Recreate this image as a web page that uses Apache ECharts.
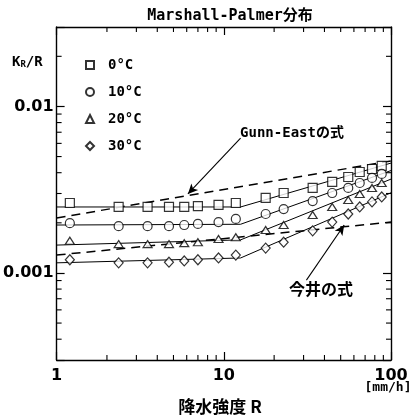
<!DOCTYPE html>
<html><head><meta charset="utf-8">
<script src="https://cdn.jsdelivr.net/npm/echarts@6/dist/echarts.min.js"></script>
<style>html,body{margin:0;padding:0;background:#fff}#c{width:417px;height:418px}</style>
</head><body><div id="c"></div>
<script>
// rain intensity R [mm/h]
const rain = [1.2, 2.35, 3.5, 4.7, 5.8, 7, 9.3, 11.8, 17.8, 22.8, 34, 44.5, 55.5, 65, 77, 88];
// K_R / R values per temperature
const k0  = [0.00263, 0.00249, 0.00249, 0.00249, 0.00249, 0.00252, 0.00256, 0.00263, 0.00282, 0.00302, 0.00324, 0.00352, 0.00377, 0.00404, 0.00421, 0.00439];
const k10 = [0.00199, 0.00191, 0.00191, 0.00191, 0.00194, 0.00197, 0.00202, 0.00211, 0.00226, 0.00242, 0.00270, 0.00302, 0.00324, 0.00347, 0.00372, 0.00393];
const k20 = [0.00156, 0.00149, 0.00149, 0.00149, 0.00151, 0.00153, 0.00160, 0.00164, 0.00181, 0.00194, 0.00223, 0.00249, 0.00274, 0.00298, 0.00324, 0.00347];
const k30 = [0.00120, 0.00115, 0.00115, 0.00116, 0.00118, 0.00120, 0.00123, 0.00128, 0.00141, 0.00153, 0.00179, 0.00202, 0.00226, 0.00249, 0.00267, 0.00286];
// fitted curves (solid)
const fitR  = [1, 12.6, 100];
const fit0  = [0.00249, 0.00249, 0.00457];
const fit10 = [0.00194, 0.00196, 0.00412];
const fit20 = [0.00147, 0.00158, 0.00366];
const fit30 = [0.00115, 0.00123, 0.00303];
// reference formulas (dashed)
const refR = [1, 100];
const gunnEast = [0.00214, 0.00470];
const imai = [0.00128, 0.00202];
// annotation arrows [tail, head]
const gunnArrow = [[12.6, 0.00646], [6.1, 0.00298]];
const imaiArrow = [[31.2, 0.000906], [52.5, 0.00194]];
// ticks
const xTickValues = [1, 10, 100];
const xTickLabels = ['1', '10', '100'];
const yTickValues = [0.001, 0.01];
const yTickLabels = ['0.001', '0.01'];
const xMinorTicks = [2, 3, 4, 5, 6, 7, 8, 9, 20, 30, 40, 50, 60, 70, 80, 90];
const yMinorTicks = [0.0004, 0.0005, 0.0006, 0.0007, 0.0008, 0.0009, 0.002, 0.003, 0.004, 0.005, 0.006, 0.007, 0.008, 0.009, 0.02];
const seriesNames = ['0°C', '10°C', '20°C', '30°C'];

const MONO = '"DejaVu Sans Mono", "Noto Sans CJK JP", monospace';
const CJK = '"Noto Sans CJK JP", sans-serif';

function labelFor(values, labels) {
  return function (v) {
    for (let i = 0; i < values.length; i++) {
      if (Math.abs(Math.log10(v) - Math.log10(values[i])) < 1e-6) return labels[i];
    }
    return '';
  };
}

const chart = echarts.init(document.getElementById('c'), null, {renderer: 'canvas'});
const pair = (xs, ys) => xs.map((x, i) => [x, ys[i]]);
const lineStyleSolid = {color: '#000', width: 1};
const markerStyle = {color: '#fff', borderColor: '#000', borderWidth: 1.2};

function axisCommon(extra) {
  return Object.assign({
    type: 'log', logBase: 10,
    axisLine: {show: true, lineStyle: {color: '#000', width: 1.4}},
    axisTick: {show: true, inside: true, length: 8, lineStyle: {color: '#000', width: 1.2}},
    splitLine: {show: false},
    minorTick: {show: false},
    minorSplitLine: {show: false}
  }, extra);
}

function minorTickSeries(axisDim) {
  const data = axisDim === 'x' ? xMinorTicks.map(v => [v, 0.001]) : yMinorTicks.map(v => [1, v]);
  return {
    type: 'custom', silent: true, clip: false, z: 1,
    data: data,
    encode: {x: 0, y: 1},
    renderItem: function (params, api) {
      const cs = params.coordSys;
      const p = api.coord([api.value(0), api.value(1)]);
      const L = 5;
      const st = {stroke: '#000', lineWidth: 1.1};
      if (axisDim === 'x') {
        return {type: 'group', children: [
          {type: 'line', shape: {x1: p[0], y1: cs.y + cs.height, x2: p[0], y2: cs.y + cs.height - L}, style: st},
          {type: 'line', shape: {x1: p[0], y1: cs.y, x2: p[0], y2: cs.y + L}, style: st}
        ]};
      }
      return {type: 'group', children: [
        {type: 'line', shape: {x1: cs.x, y1: p[1], x2: cs.x + L, y2: p[1]}, style: st},
        {type: 'line', shape: {x1: cs.x + cs.width, y1: p[1], x2: cs.x + cs.width - L, y2: p[1]}, style: st}
      ]};
    }
  };
}

function arrowLine(arr) {
  return {
    silent: true, symbol: ['none', 'arrow'], symbolSize: [7, 10],
    label: {show: false},
    lineStyle: {type: 'solid', color: '#000', width: 1.1},
    data: [[{coord: arr[0]}, {coord: arr[1]}]]
  };
}

const option = {
  backgroundColor: '#fff',
  animation: false,
  grid: {left: 55, right: 26, top: 27, bottom: 58},
  xAxis: [
    axisCommon({min: 1, max: 100, position: 'bottom',
      axisLabel: {show: true, color: '#000', fontFamily: '"DejaVu Sans", sans-serif', fontWeight: 'bold', fontSize: 16, margin: 8,
        formatter: labelFor(xTickValues, xTickLabels)}}),
    axisCommon({min: 1, max: 100, position: 'top', axisLabel: {show: false}})
  ],
  yAxis: [
    axisCommon({min: 0.0003, max: 0.03, position: 'left',
      axisLabel: {show: true, color: '#000', fontFamily: '"DejaVu Sans", sans-serif', fontWeight: 'bold', fontSize: 16, margin: 3,
        formatter: labelFor(yTickValues, yTickLabels)}}),
    axisCommon({min: 0.0003, max: 0.03, position: 'right', axisLabel: {show: false}})
  ],
  legend: {
    orient: 'vertical', left: 80, top: 53,
    itemWidth: 8, itemHeight: 8, itemGap: 13,
    data: seriesNames,
    textStyle: {color: '#000', fontFamily: MONO, fontSize: 14, fontWeight: 'bold', lineHeight: 14, padding: [0, 0, 0, 9]}
  },
  graphic: [
    {type: 'text', x: 230, y: 16, style: {text: 'Marshall-Palmer分布', font: 'bold 15px ' + MONO, fill: '#000', align: 'center', verticalAlign: 'middle'}},
    {type: 'text', x: 12, y: 62, style: {text: '{a|K}{b|R}{a|/R}', verticalAlign: 'middle',
      rich: {a: {fontFamily: MONO, fontSize: 14, fontWeight: 'bold', fill: '#000'}, b: {fontFamily: MONO, fontSize: 9, fontWeight: 'bold', fill: '#000', verticalAlign: 'bottom', padding: [5, 0, 0, 0]}}}},
    {type: 'text', x: 292, y: 133, style: {text: 'Gunn-Eastの式', font: 'bold 14px ' + MONO, fill: '#000', align: 'center', verticalAlign: 'middle'}},
    {type: 'text', x: 321, y: 289, style: {text: '今井の式', font: 'bold 16px ' + CJK, fill: '#000', align: 'center', verticalAlign: 'middle'}},
    {type: 'text', x: 388, y: 388, style: {text: '[mm/h]', font: 'bold 13px ' + MONO, fill: '#000', align: 'center', verticalAlign: 'middle'}},
    {type: 'text', x: 220, y: 407, style: {text: '降水強度 R', font: 'bold 17px ' + CJK, fill: '#000', align: 'center', verticalAlign: 'middle'}}
  ],
  series: [
    minorTickSeries('x'),
    minorTickSeries('y'),
    {name: 'fit0', type: 'line', data: pair(fitR, fit0), symbol: 'none', lineStyle: lineStyleSolid, z: 2},
    {name: 'fit10', type: 'line', data: pair(fitR, fit10), symbol: 'none', lineStyle: lineStyleSolid, z: 2},
    {name: 'fit20', type: 'line', data: pair(fitR, fit20), symbol: 'none', lineStyle: lineStyleSolid, z: 2},
    {name: 'fit30', type: 'line', data: pair(fitR, fit30), symbol: 'none', lineStyle: lineStyleSolid, z: 2},
    {name: 'Gunn-East', type: 'line', data: pair(refR, gunnEast), symbol: 'none', z: 2,
      lineStyle: {color: '#000', width: 1.5, type: [9, 6]}, markLine: arrowLine(gunnArrow)},
    {name: 'Imai', type: 'line', data: pair(refR, imai), symbol: 'none', z: 2,
      lineStyle: {color: '#000', width: 1.5, type: [9, 6]}, markLine: arrowLine(imaiArrow)},
    {name: seriesNames[0], type: 'scatter', data: pair(rain, k0), symbol: 'rect', symbolSize: [9, 9], itemStyle: markerStyle, z: 5},
    {name: seriesNames[1], type: 'scatter', data: pair(rain, k10), symbol: 'circle', symbolSize: 9, itemStyle: markerStyle, z: 5},
    {name: seriesNames[2], type: 'scatter', data: pair(rain, k20), symbol: 'triangle', symbolSize: [9, 7], itemStyle: markerStyle, z: 5},
    {name: seriesNames[3], type: 'scatter', data: pair(rain, k30), symbol: 'diamond', symbolSize: [9, 10], itemStyle: markerStyle, z: 5}
  ]
};
chart.setOption(option);
</script>
</body></html>
